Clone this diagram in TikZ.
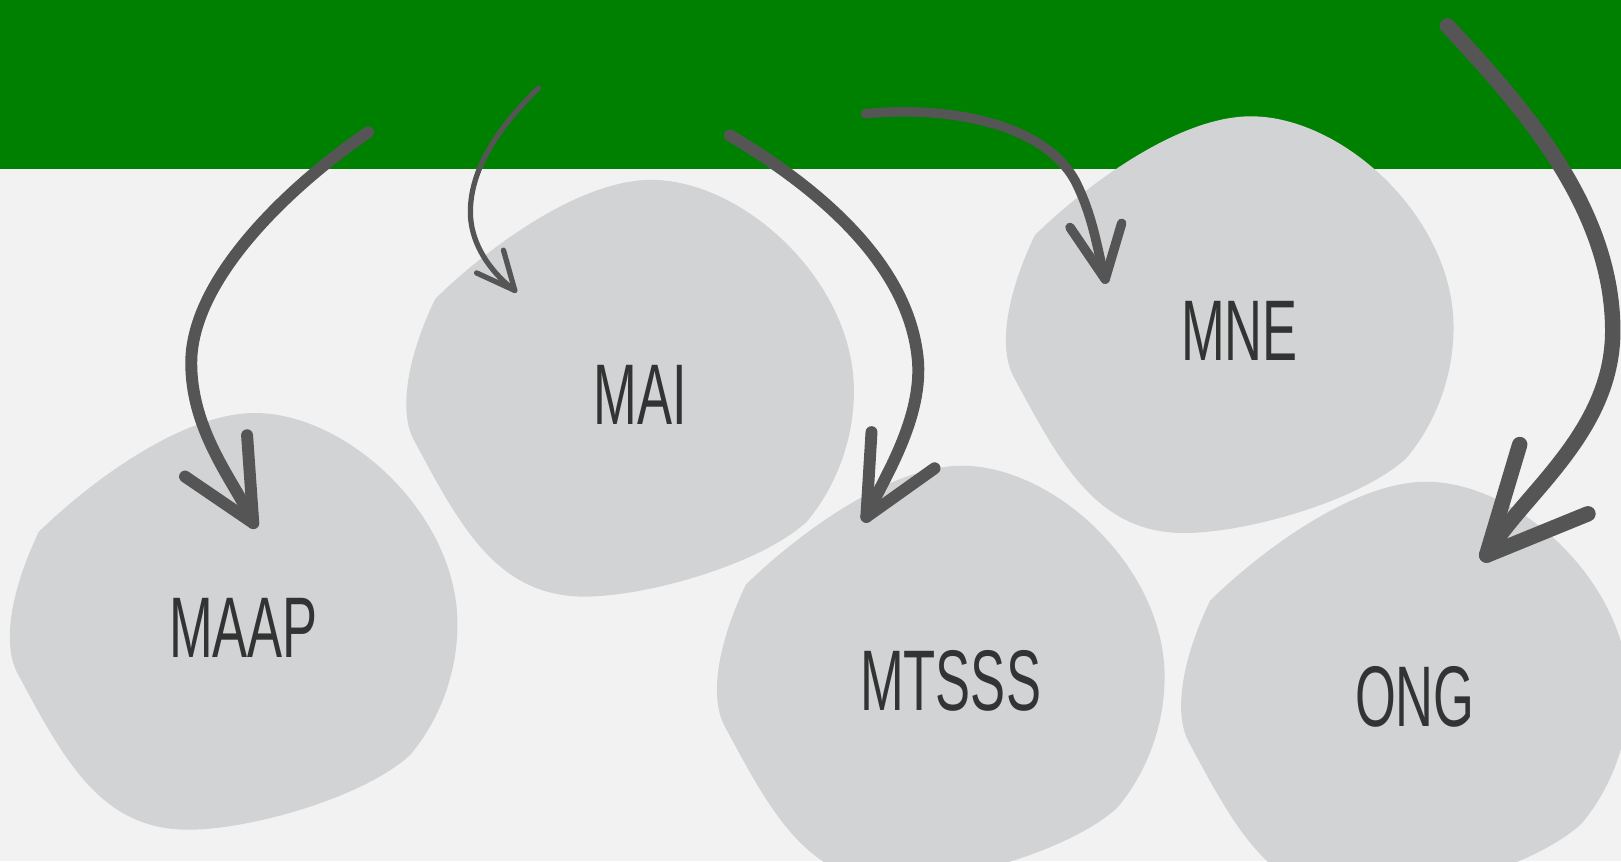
\documentclass[tikz,border=0pt]{standalone}
\usepackage{fontspec}
\usepackage{tikz}
\usetikzlibrary{backgrounds}
\newfontfamily\orgfont[FakeStretch=0.61]{Liberation Sans}
\definecolor{bandgreen}{HTML}{008000}
\definecolor{pagegray}{HTML}{F2F2F2}
\definecolor{blobgray}{HTML}{D1D3D4}
\definecolor{inkgray}{HTML}{555555}
\definecolor{textgray}{HTML}{333333}
\tikzset{
    org/.style={font=\orgfont\fontsize{24.5}{28}\selectfont, text=textgray, inner sep=0pt},
    brush/.style={draw=inkgray, line cap=round, line join=round},
    thinbrush/.style={brush, line width=1.5pt},
    midbrush/.style={brush, line width=2.7pt},
    fatbrush/.style={brush, line width=3.4pt},
    hugebrush/.style={brush, line width=4.4pt},
    blob/.pic={
        \fill[blobgray] (-198,-93) .. controls (-150,-140) and (-60,-208) .. (11,-208)
            .. controls (100,-208) and (207,-110) .. (207,-4)
            .. controls (207,50) and (185,95) .. (161,123)
            .. controls (115,165) and (0,197) .. (-59,195)
            .. controls (-140,192) and (-175,125) .. (-219,43)
            .. controls (-232,18) and (-228,-30) .. cycle;
    }
}
\begin{document}
\begin{tikzpicture}[x=0.010338cm, y=-0.010338cm]
	\useasboundingbox (0,0) rectangle (1568,833);
	\node[org] (maap) at (235.5,607.5) {MAAP};
	\node[org] (mai) at (619,382) {MAI};
	\node[org] (mne) at (1199,320.5) {MNE};
	\node[org] (mtsss) at (919.5,658.5) {MTSSS};
	\node[org] (ong) at (1368.5,674) {ONG};
	\begin{scope}[on background layer]
		\fill[pagegray] (0,0) rectangle (1568,833);
		\fill[bandgreen] (0,0) rectangle (1568,163.5);
		\foreach \n in {maap,mai,mne,mtsss,ong}
			\pic at (\n) {blob};
	\end{scope}
	% arrow tails in the band
	\coordinate (s1) at (356,128);
	\coordinate (s2) at (521,85);
	\coordinate (s3) at (706,131);
	\coordinate (s4) at (837,110);
	\coordinate (s5) at (1400,25);
	% arrow tips
	\coordinate (t1) at (245,506);
	\coordinate (t2) at (498,281);
	\coordinate (t3) at (838,500);
	\coordinate (t4) at (1069,270);
	\coordinate (t5) at (1438,537);
	\draw[fatbrush] (s1) .. controls (280,180) and (185,270) .. (185,351)
		.. controls (185,420) and (230,470) .. (t1);
	\draw[fatbrush] (179,461) -- (t1) -- (239,421);
	\draw[thinbrush] (s2) .. controls (480,125) and (455,165) .. (455,205)
		.. controls (455,240) and (480,268) .. (t2);
	\draw[thinbrush] (461,264) -- (t2) -- (487,242);
	\draw[fatbrush] (s3) .. controls (780,175) and (880,250) .. (888,350)
		.. controls (892,410) and (850,470) .. (t3);
	\draw[fatbrush] (843,418) -- (t3) -- (904,453);
	\draw[midbrush] (s4) .. controls (920,102) and (1010,120) .. (1040,175)
		.. controls (1058,210) and (1062,245) .. (t4);
	\draw[midbrush] (1035,220) -- (t4) -- (1085,216);
	\draw[hugebrush] (s5) .. controls (1470,100) and (1560,200) .. (1560,320)
		.. controls (1560,420) and (1470,480) .. (t5);
	\draw[hugebrush] (1470,430) -- (t5) -- (1536,497);
\end{tikzpicture}
\end{document}
